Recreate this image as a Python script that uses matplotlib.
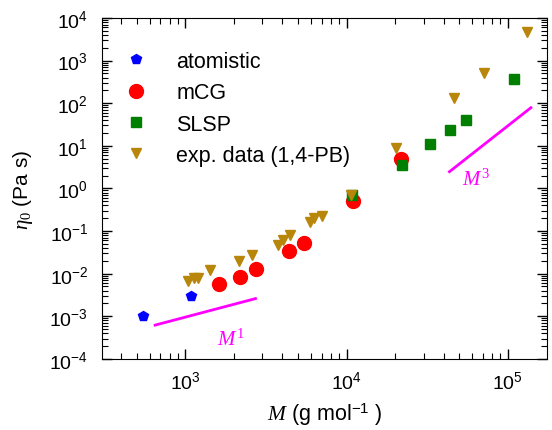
import matplotlib
matplotlib.use("Agg")
import matplotlib.pyplot as plt
from matplotlib.ticker import LogLocator, NullFormatter

plt.rcParams['font.family'] = ['Liberation Sans', 'DejaVu Sans']
plt.rcParams['mathtext.fontset'] = 'custom'
plt.rcParams['mathtext.rm'] = 'Liberation Serif'
plt.rcParams['mathtext.it'] = 'Liberation Serif:italic'

# data
atom_M = [548, 1090]
atom_eta = [1.0e-3, 3.0e-3]

mcg_M = [1626, 2174, 2735, 4385, 5456, 10940, 21880]
mcg_eta = [5.8e-3, 8.5e-3, 0.0126, 0.0334, 0.053, 0.506, 4.8]

slsp_M = [10840, 21970, 32800, 43850, 54800, 109000]
slsp_eta = [0.71, 3.6, 10.8, 23.1, 40.3, 370]

exp_M = [1033, 1126, 1200, 1429, 2143, 2594, 3767, 4047, 4486,
         5972, 6266, 7064, 10590, 20150, 46400, 71600, 131000]
exp_eta = [6.6e-3, 7.9e-3, 7.9e-3, 0.0119, 0.0201, 0.0273, 0.0477, 0.0615, 0.0819,
           0.160, 0.199, 0.229, 0.70, 9.0, 132, 512, 4620]

# guide lines (power laws)
m1_M = [650, 2725]
m1_eta = [6.2e-4, 2.6e-3]
m3_M = [43450, 139000]
m3_eta = [2.47, 78.4]

fig = plt.figure(figsize=(5.52, 4.31), dpi=100)
ax = fig.add_axes([0.185, 0.165, 0.806, 0.791])

ax.plot(m1_M, m1_eta, color='#ff00ff', lw=2)
ax.plot(m3_M, m3_eta, color='#ff00ff', lw=2)

ax.plot(atom_M, atom_eta, 'p', color='#0000ff', ms=7, mec='#0000ff', label='atomistic')
ax.plot(mcg_M, mcg_eta, 'o', color='#ff0000', ms=10, mec='#ff0000', label='mCG')
ax.plot(slsp_M, slsp_eta, 's', color='#007f00', ms=6.5, mec='#007f00', label='SLSP')
ax.plot(exp_M, exp_eta, 'v', color='#b8860b', ms=7.5, mec='#b8860b', label='exp. data (1,4-PB)')

ax.text(1905, 3.1e-4, r'$M^1$', color='#ff00ff', fontsize=15, ha='center', va='center')
ax.text(63200, 1.75, r'$M^3$', color='#ff00ff', fontsize=15, ha='center', va='center')

ax.set_xscale('log')
ax.set_yscale('log')
ax.set_xlim(305, 1.75e5)
ax.set_ylim(1e-4, 1e4)

ax.yaxis.set_major_locator(LogLocator(base=10, numticks=20))
ax.yaxis.set_minor_locator(LogLocator(base=10, subs=range(2, 10), numticks=20))
ax.yaxis.set_minor_formatter(NullFormatter())

ax.tick_params(which='both', direction='in', top=True, right=True, labelsize=14)
ax.tick_params(which='major', length=7, width=1)
ax.tick_params(which='minor', length=4, width=0.8)
ax.tick_params(axis='x', pad=8)
ax.tick_params(axis='y', pad=10)

ax.set_xlabel(r'$M$ (g mol$^{\mathdefault{-1}}$ )', fontsize=15.5, labelpad=6)
ax.set_ylabel(r'$\eta_0$ (Pa s)', fontsize=15, labelpad=10)

ax.legend(loc='upper left', frameon=False, fontsize=15.5, handlelength=1.5,
          handletextpad=1.1, labelspacing=0.48, bbox_to_anchor=(-0.003, 0.96),
          numpoints=1)

fig.savefig('out.png', dpi=100)
